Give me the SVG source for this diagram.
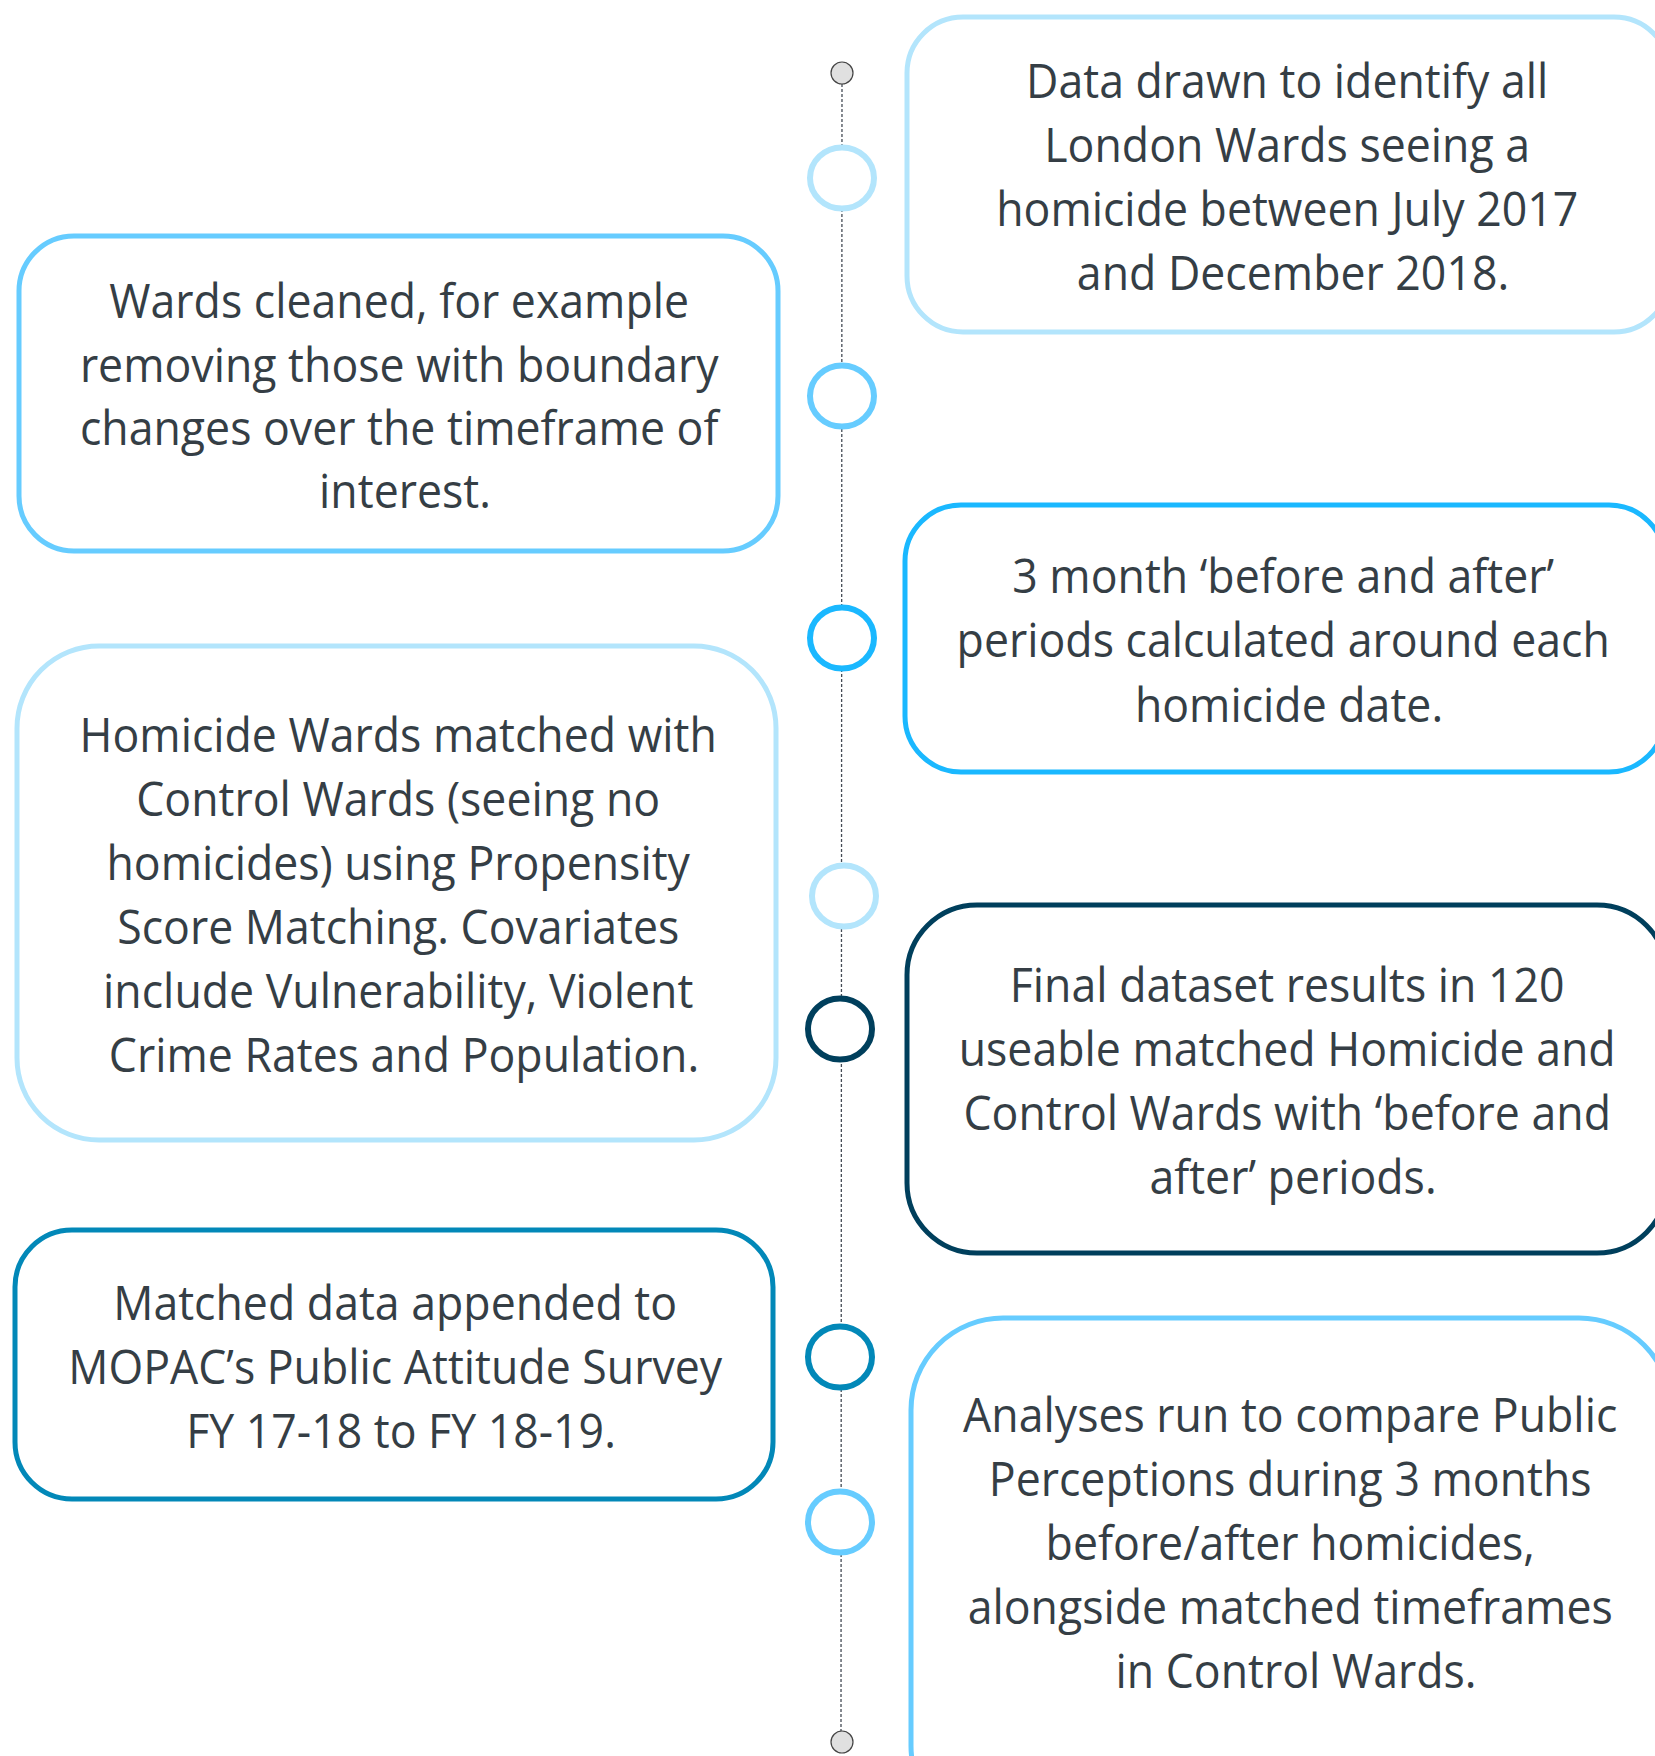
<svg xmlns="http://www.w3.org/2000/svg" width="1655" height="1756" viewBox="0 0 1655 1756">
<style>
  .box { fill: #ffffff; stroke-width: 5; }
  .dot { fill: #ffffff; stroke-width: 6; }
  .end { fill: #e0e0e0; stroke: #444444; stroke-width: 1.2; }
  .lbl { font-family: "Open Sans", "Noto Sans", "Liberation Sans", sans-serif; font-size: 48px; fill: #353e45; text-anchor: middle; }
  .c1 { stroke: #b3e5fc; }
  .c2 { stroke: #66ccff; }
  .c3 { stroke: #1ab8ff; }
  .c4 { stroke: #003f5c; }
  .c5 { stroke: #0288b8; }
</style>
<rect width="1655" height="1756" fill="#ffffff"/>
<g id="connectors">
  <line x1="842" y1="84" x2="841" y2="1731" stroke="#444b55" stroke-width="1.3" stroke-dasharray="3 2"/>
</g>
<g id="timeline-markers">
  <circle id="start" class="end" cx="842" cy="73" r="11"/>
  <ellipse id="m1" class="dot c1" cx="842" cy="178" rx="32" ry="30.5"/>
  <ellipse id="m2" class="dot c2" cx="842" cy="396" rx="32" ry="30.5"/>
  <ellipse id="m3" class="dot c3" cx="842" cy="638" rx="32" ry="30.5"/>
  <ellipse id="m4" class="dot c1" cx="844" cy="896" rx="32" ry="30.5"/>
  <ellipse id="m5" class="dot c4" cx="840" cy="1029" rx="32" ry="30.5"/>
  <ellipse id="m6" class="dot c5" cx="840" cy="1357" rx="32" ry="30.5"/>
  <ellipse id="m7" class="dot c2" cx="840" cy="1522" rx="32" ry="30.5"/>
  <circle id="end" class="end" cx="842" cy="1742" r="11"/>
</g>
<g id="step1">
  <rect class="box c1" x="907" y="17" width="763" height="315" rx="56"/>
  <text class="lbl" transform="translate(1293 0) scale(0.93 1)">
    <tspan x="0" y="98">Data drawn to identify all</tspan>
    <tspan x="0" y="162">London Wards seeing a</tspan>
    <tspan x="0" y="226">homicide between July 2017</tspan>
    <tspan x="0" y="290">and December 2018.</tspan>
  </text>
</g>
<g id="step2">
  <rect class="box c2" x="19" y="236" width="759" height="315" rx="55"/>
  <text class="lbl" transform="translate(405 0) scale(0.93 1)">
    <tspan x="0" y="318">Wards cleaned, for example</tspan>
    <tspan x="0" y="382">removing those with boundary</tspan>
    <tspan x="0" y="445">changes over the timeframe of</tspan>
    <tspan x="0" y="508">interest.</tspan>
  </text>
</g>
<g id="step3">
  <rect class="box c3" x="905" y="505" width="760" height="267" rx="56"/>
  <text class="lbl" transform="translate(1289 0) scale(0.93 1)">
    <tspan x="0" y="593">3 month ‘before and after’</tspan>
    <tspan x="0" y="657">periods calculated around each</tspan>
    <tspan x="0" y="722">homicide date.</tspan>
  </text>
</g>
<g id="step4">
  <rect class="box c1" x="17" y="646" width="759" height="494" rx="82"/>
  <text class="lbl" transform="translate(404 0) scale(0.93 1)">
    <tspan x="0" y="752">Homicide Wards matched with</tspan>
    <tspan x="0" y="816">Control Wards (seeing no</tspan>
    <tspan x="0" y="880">homicides) using Propensity</tspan>
    <tspan x="0" y="944">Score Matching. Covariates</tspan>
    <tspan x="0" y="1008">include Vulnerability, Violent</tspan>
    <tspan x="0" y="1072">Crime Rates and Population.</tspan>
  </text>
</g>
<g id="step5">
  <rect class="box c4" x="907" y="905" width="760" height="348" rx="70"/>
  <text class="lbl" transform="translate(1293 0) scale(0.93 1)">
    <tspan x="0" y="1002">Final dataset results in 120</tspan>
    <tspan x="0" y="1066">useable matched Homicide and</tspan>
    <tspan x="0" y="1130">Control Wards with ‘before and</tspan>
    <tspan x="0" y="1194">after’ periods.</tspan>
  </text>
</g>
<g id="step6">
  <rect class="box c5" x="15" y="1230" width="758" height="269" rx="57"/>
  <text class="lbl" transform="translate(401 0) scale(0.93 1)">
    <tspan x="0" y="1320">Matched data appended to</tspan>
    <tspan x="0" y="1384">MOPAC’s Public Attitude Survey</tspan>
    <tspan x="0" y="1448">FY 17-18 to FY 18-19.</tspan>
  </text>
</g>
<g id="step7">
  <rect class="box c2" x="911" y="1318" width="760" height="520" rx="92"/>
  <text class="lbl" transform="translate(1296 0) scale(0.93 1)">
    <tspan x="0" y="1432">Analyses run to compare Public</tspan>
    <tspan x="0" y="1496">Perceptions during 3 months</tspan>
    <tspan x="0" y="1560">before/after homicides,</tspan>
    <tspan x="0" y="1624">alongside matched timeframes</tspan>
    <tspan x="0" y="1688">in Control Wards.</tspan>
  </text>
</g>
</svg>
